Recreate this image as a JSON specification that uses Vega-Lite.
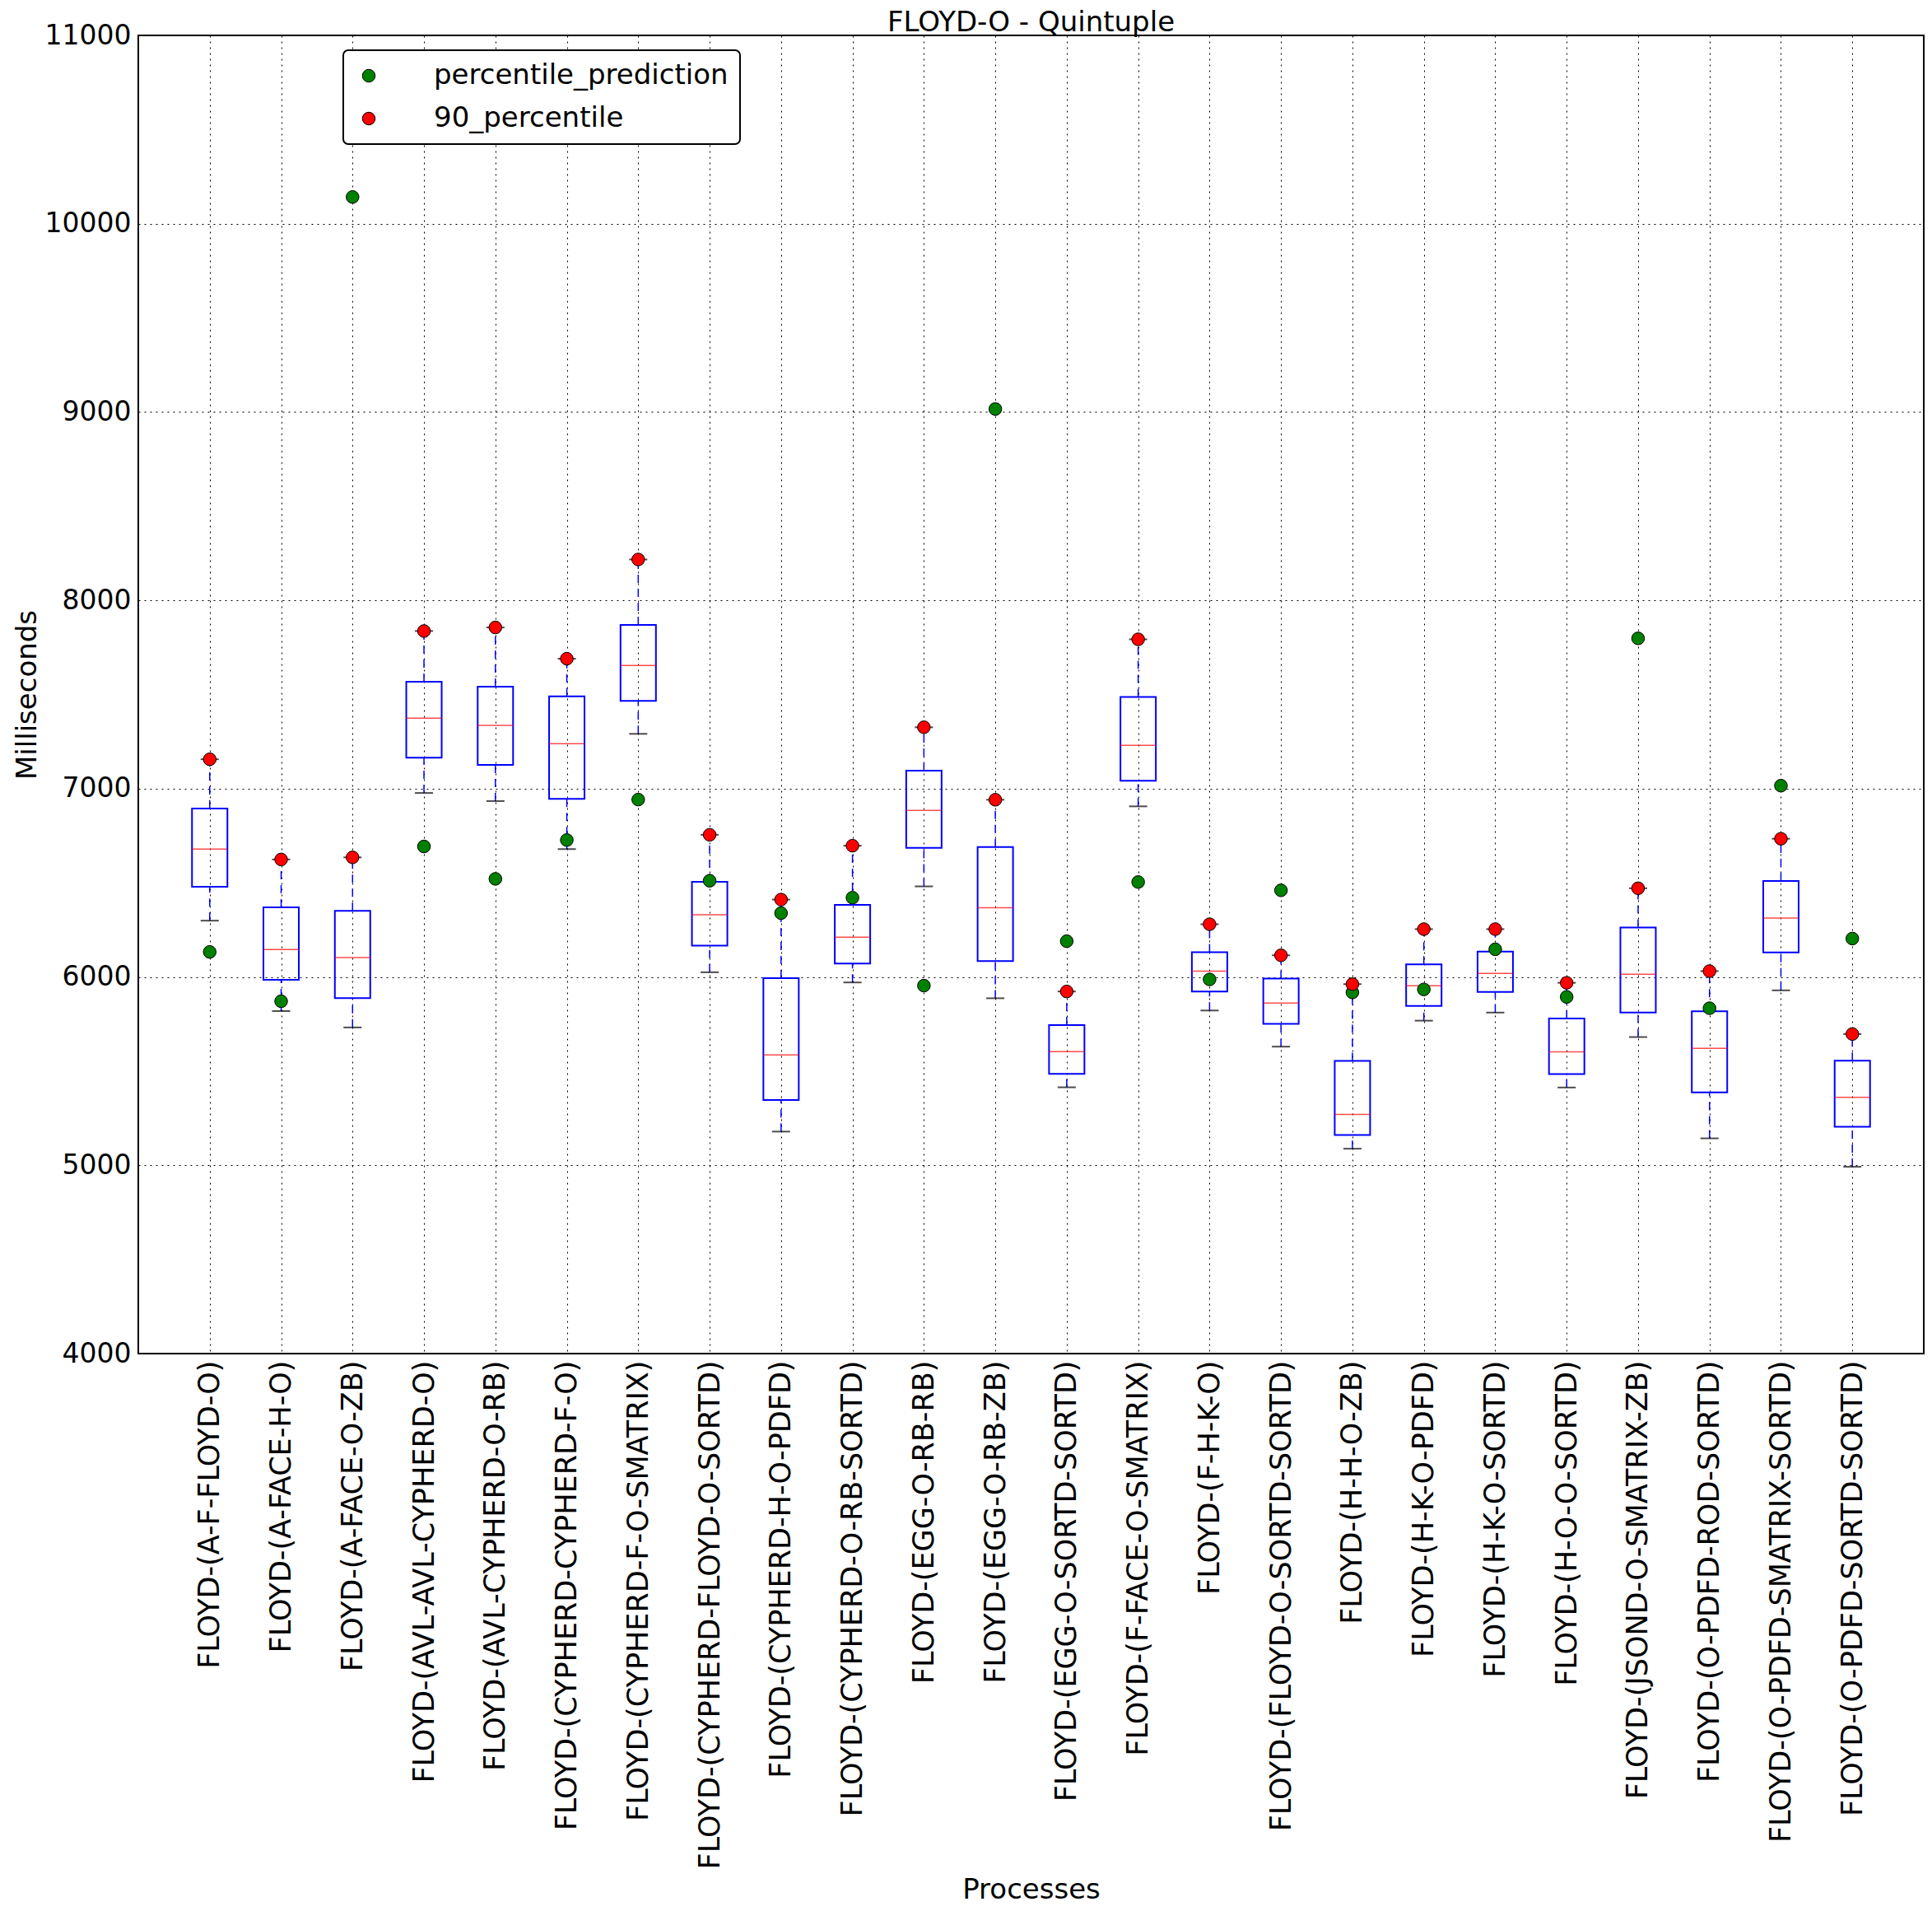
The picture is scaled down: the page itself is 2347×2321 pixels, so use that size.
{
  "$schema": "https://vega.github.io/schema/vega-lite/v6.json",
  "width": 2169,
  "height": 1601,
  "autosize": "none",
  "padding": {"left": 168, "top": 43, "right": 10, "bottom": 677},
  "background": "white",
  "title": {"text": "FLOYD-O - Quintuple", "fontSize": 34, "font": "DejaVu Sans", "fontWeight": "normal", "color": "black", "offset": 4, "dy": 22},
  "config": {
    "font": "DejaVu Sans",
    "view": {"stroke": "black", "strokeWidth": 2},
    "legend": {"strokeWidth": 2}
  },
  "data": {
    "values": [
      {"process": "FLOYD-(A-F-FLOYD-O)", "lower": 6299, "q1": 6479, "median": 6679, "q3": 6894, "upper": 7156, "percentile_prediction": 6133, "90_percentile": 7156},
      {"process": "FLOYD-(A-FACE-H-O)", "lower": 5819, "q1": 5985, "median": 6146, "q3": 6370, "upper": 6624, "percentile_prediction": 5871, "90_percentile": 6624},
      {"process": "FLOYD-(A-FACE-O-ZB)", "lower": 5732, "q1": 5888, "median": 6103, "q3": 6351, "upper": 6635, "percentile_prediction": 10142, "90_percentile": 6635},
      {"process": "FLOYD-(AVL-AVL-CYPHERD-O)", "lower": 6977, "q1": 7164, "median": 7374, "q3": 7568, "upper": 7837, "percentile_prediction": 6693, "90_percentile": 7837},
      {"process": "FLOYD-(AVL-CYPHERD-O-RB)", "lower": 6934, "q1": 7126, "median": 7336, "q3": 7542, "upper": 7856, "percentile_prediction": 6521, "90_percentile": 7856},
      {"process": "FLOYD-(CYPHERD-CYPHERD-F-O)", "lower": 6679, "q1": 6946, "median": 7239, "q3": 7490, "upper": 7690, "percentile_prediction": 6727, "90_percentile": 7690},
      {"process": "FLOYD-(CYPHERD-F-O-SMATRIX)", "lower": 7291, "q1": 7466, "median": 7654, "q3": 7870, "upper": 8217, "percentile_prediction": 6942, "90_percentile": 8217},
      {"process": "FLOYD-(CYPHERD-FLOYD-O-SORTD)", "lower": 6025, "q1": 6167, "median": 6330, "q3": 6505, "upper": 6755, "percentile_prediction": 6511, "90_percentile": 6755},
      {"process": "FLOYD-(CYPHERD-H-O-PDFD)", "lower": 5179, "q1": 5347, "median": 5586, "q3": 5994, "upper": 6411, "percentile_prediction": 6339, "90_percentile": 6411},
      {"process": "FLOYD-(CYPHERD-O-RB-SORTD)", "lower": 5971, "q1": 6071, "median": 6211, "q3": 6383, "upper": 6697, "percentile_prediction": 6421, "90_percentile": 6697},
      {"process": "FLOYD-(EGG-O-RB-RB)", "lower": 6481, "q1": 6686, "median": 6885, "q3": 7096, "upper": 7326, "percentile_prediction": 5954, "90_percentile": 7326},
      {"process": "FLOYD-(EGG-O-RB-ZB)", "lower": 5887, "q1": 6084, "median": 6368, "q3": 6690, "upper": 6941, "percentile_prediction": 9016, "90_percentile": 6941},
      {"process": "FLOYD-(EGG-O-SORTD-SORTD)", "lower": 5414, "q1": 5485, "median": 5603, "q3": 5745, "upper": 5923, "percentile_prediction": 6190, "90_percentile": 5923},
      {"process": "FLOYD-(F-FACE-O-SMATRIX)", "lower": 6906, "q1": 7042, "median": 7230, "q3": 7487, "upper": 7793, "percentile_prediction": 6504, "90_percentile": 7793},
      {"process": "FLOYD-(F-H-K-O)", "lower": 5822, "q1": 5923, "median": 6031, "q3": 6132, "upper": 6280, "percentile_prediction": 5987, "90_percentile": 6280},
      {"process": "FLOYD-(FLOYD-O-SORTD-SORTD)", "lower": 5630, "q1": 5751, "median": 5862, "q3": 5992, "upper": 6115, "percentile_prediction": 6460, "90_percentile": 6115},
      {"process": "FLOYD-(H-H-O-ZB)", "lower": 5088, "q1": 5161, "median": 5270, "q3": 5554, "upper": 5962, "percentile_prediction": 5918, "90_percentile": 5962},
      {"process": "FLOYD-(H-K-O-PDFD)", "lower": 5768, "q1": 5846, "median": 5953, "q3": 6067, "upper": 6254, "percentile_prediction": 5934, "90_percentile": 6254},
      {"process": "FLOYD-(H-K-O-SORTD)", "lower": 5811, "q1": 5920, "median": 6019, "q3": 6135, "upper": 6254, "percentile_prediction": 6147, "90_percentile": 6254},
      {"process": "FLOYD-(H-O-O-SORTD)", "lower": 5413, "q1": 5484, "median": 5602, "q3": 5780, "upper": 5969, "percentile_prediction": 5894, "90_percentile": 5969},
      {"process": "FLOYD-(JSOND-O-SMATRIX-ZB)", "lower": 5681, "q1": 5811, "median": 6014, "q3": 6263, "upper": 6471, "percentile_prediction": 7798, "90_percentile": 6471},
      {"process": "FLOYD-(O-PDFD-ROD-SORTD)", "lower": 5143, "q1": 5387, "median": 5621, "q3": 5818, "upper": 6031, "percentile_prediction": 5834, "90_percentile": 6031},
      {"process": "FLOYD-(O-PDFD-SMATRIX-SORTD)", "lower": 5929, "q1": 6130, "median": 6313, "q3": 6510, "upper": 6734, "percentile_prediction": 7016, "90_percentile": 6734},
      {"process": "FLOYD-(O-PDFD-SORTD-SORTD)", "lower": 4992, "q1": 5205, "median": 5361, "q3": 5555, "upper": 5697, "percentile_prediction": 6204, "90_percentile": 5697}
    ]
  },
  "encoding": {
    "x": {
      "field": "process",
      "type": "nominal",
      "sort": null,
      "scale": {"type": "point", "padding": 1},
      "axis": {
        "title": "Processes",
        "titleFontSize": 34,
        "titleFontWeight": "normal",
        "titleColor": "black",
        "titleBaseline": "alphabetic",
        "titleY": 661,
        "labelAngle": -90,
        "labelFontSize": 35,
        "labelColor": "black",
        "labelPadding": 8,
        "labelLimit": 1000,
        "ticks": false,
        "domain": false,
        "grid": true,
        "gridColor": "black",
        "gridDash": [2, 5],
        "gridWidth": 1,
        "gridOpacity": 1
      }
    }
  },
  "layer": [
    {
      "mark": {"type": "rule", "color": "#0000ff", "strokeDash": [10, 7], "strokeWidth": 1.5},
      "encoding": {
        "y": {"field": "lower", "type": "quantitative", "scale": {"domain": [4000, 11000], "nice": false, "zero": false},
          "axis": {
            "title": "Milliseconds",
            "titleFontSize": 34,
            "titleFontWeight": "normal",
            "titleColor": "black",
            "titlePadding": 4,
            "values": [4000, 5000, 6000, 7000, 8000, 9000, 10000, 11000],
            "format": "d",
            "labelFontSize": 33,
            "labelColor": "black",
            "labelPadding": 9,
            "ticks": false,
            "domain": false,
            "grid": true,
            "gridColor": "black",
            "gridDash": [2, 5],
            "gridWidth": 1,
            "gridOpacity": 1
          }
        },
        "y2": {"field": "q1"}
      }
    },
    {
      "mark": {"type": "rule", "color": "#0000ff", "strokeDash": [10, 7], "strokeWidth": 1.5},
      "encoding": {
        "y": {"field": "q3", "type": "quantitative"},
        "y2": {"field": "upper"}
      }
    },
    {
      "mark": {"type": "bar", "size": 43, "fillOpacity": 0, "stroke": "#0000ff", "strokeWidth": 2},
      "encoding": {
        "y": {"field": "q1", "type": "quantitative"},
        "y2": {"field": "q3"}
      }
    },
    {
      "mark": {"type": "tick", "color": "#ff0000", "size": 43, "thickness": 1.5, "orient": "horizontal"},
      "encoding": {"y": {"field": "median", "type": "quantitative"}}
    },
    {
      "mark": {"type": "tick", "color": "black", "size": 22, "thickness": 2, "orient": "horizontal"},
      "encoding": {"y": {"field": "lower", "type": "quantitative"}}
    },
    {
      "mark": {"type": "tick", "color": "black", "size": 22, "thickness": 2, "orient": "horizontal"},
      "encoding": {"y": {"field": "upper", "type": "quantitative"}}
    },
    {
      "transform": [{"fold": ["percentile_prediction", "90_percentile"], "as": ["series", "value"]}],
      "mark": {"type": "point", "filled": true, "size": 240, "stroke": "black", "strokeWidth": 1, "opacity": 1},
      "encoding": {
        "y": {"field": "value", "type": "quantitative"},
        "color": {
          "field": "series",
          "type": "nominal",
          "scale": {"domain": ["percentile_prediction", "90_percentile"], "range": ["#008000", "#ff0000"]},
          "legend": {
            "orient": "none",
            "legendX": 249,
            "legendY": 18,
            "title": null,
            "labelFontSize": 34,
            "labelColor": "black",
            "labelLimit": 1000,
            "symbolType": "circle",
            "symbolSize": 240,
            "symbolStrokeColor": "black",
            "symbolStrokeWidth": 1,
            "labelOffset": 62,
            "padding": 14,
            "rowPadding": 18,
            "strokeColor": "black",
            "fillColor": "white",
            "cornerRadius": 6
          }
        }
      }
    }
  ]
}
